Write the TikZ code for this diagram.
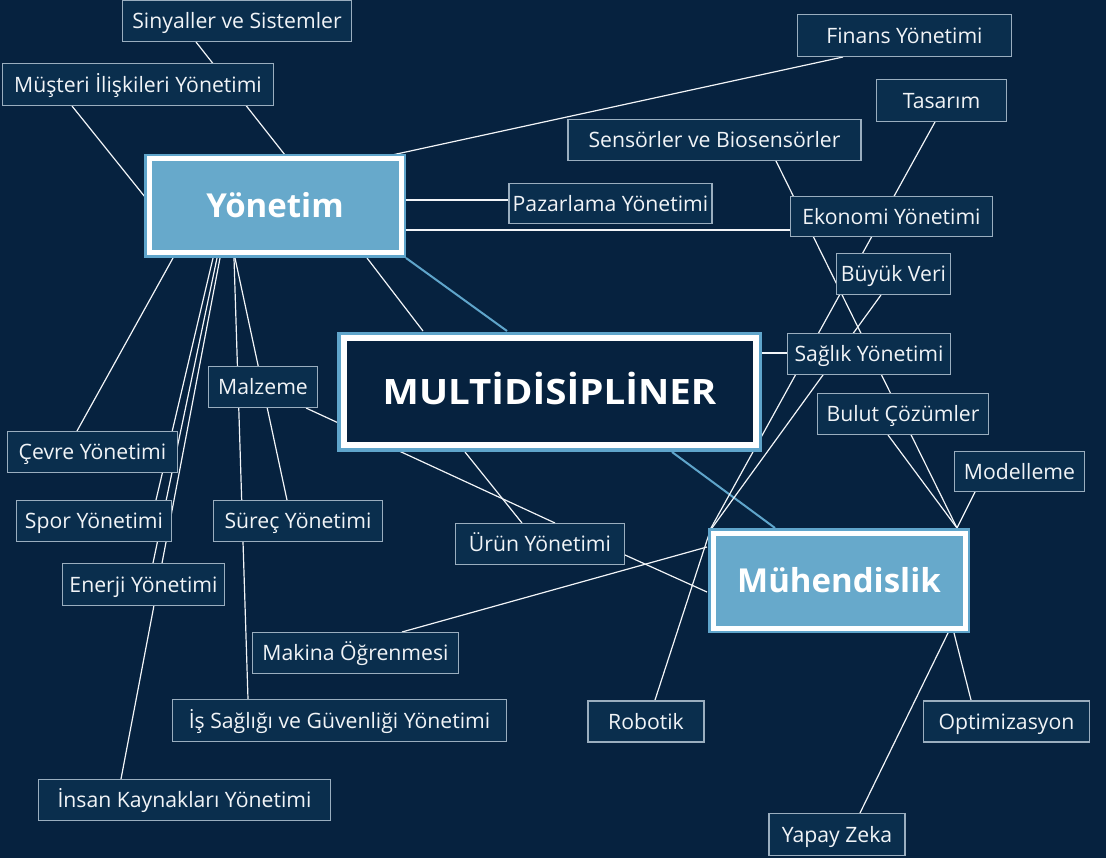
\documentclass[tikz,border=0pt]{standalone}
\usepackage{fontspec}
\usepackage{graphicx}
\setmainfont{Open Sans}
\usetikzlibrary{calc}
\definecolor{bgnavy}{HTML}{06223F}
\definecolor{boxnavy}{HTML}{0A2E4D}
\definecolor{boxedge}{HTML}{9AAEBF}
\definecolor{lightblue}{HTML}{67A9CB}
\definecolor{edgeblue}{HTML}{5FA5CB}
\definecolor{linewhite}{HTML}{F2F5F8}
\definecolor{textwhite}{HTML}{F1F4F7}
\pgfdeclarelayer{bglayer}
\pgfdeclarelayer{linelayer}
\pgfsetlayers{bglayer,linelayer,main}
\tikzset{
  topic/.style={draw=boxedge, fill=boxnavy, line width=1.1pt, inner sep=0pt,
    text=textwhite, font=\fontsize{21.2}{25}\selectfont,
    text height=15.1pt, text depth=0pt},
  hub/.style={fill=lightblue, draw=white, line width=5pt,
    preaction={draw=edgeblue, line width=10pt}, inner sep=0pt, text=white,
    font=\fontsize{33}{38}\selectfont\bfseries, text height=23.6pt, text depth=0pt},
  core/.style={fill=bgnavy, draw=white, line width=6pt,
    preaction={draw=edgeblue, line width=13pt}, inner sep=0pt, text=white,
    font=\fontsize{35}{40}\selectfont\bfseries, text height=25pt, text depth=0pt},
  link/.style={draw=linewhite, line width=1.2pt},
  blink/.style={draw=edgeblue, line width=2pt},
}
\begin{document}
\begin{tikzpicture}[x=1pt,y=-1pt]
\begin{pgfonlayer}{bglayer}
\fill[bgnavy] (0,0) rectangle (1106,858);
\end{pgfonlayer}
\useasboundingbox (0,0) rectangle (1106,858);

% nodes
\node[topic, minimum width=229pt, minimum height=41pt] (sin) at (237,21) {Sinyaller ve Sistemler};
\node[topic, minimum width=271pt, minimum height=42pt] (mus) at (138,84.5) {Müşteri İlişkileri Yönetimi};
\node[hub, minimum width=252pt, minimum height=94pt] (yon) at (275,206) {Yönetim};
\node[topic, minimum width=214pt, minimum height=42pt] (fin) at (904.5,35.5) {Finans Yönetimi};
\node[topic, minimum width=130pt, minimum height=42pt] (tas) at (941.5,100.5) {Tasarım};
\node[topic, minimum width=293pt, minimum height=41pt] (sen) at (714.5,140) {Sensörler ve Biosensörler};
\node[topic, minimum width=203pt, minimum height=40pt] (paz) at (610.5,203.5) {Pazarlama Yönetimi};
\node[topic, minimum width=202pt, minimum height=40pt] (eko) at (891.5,216.5) {Ekonomi Yönetimi};
\node[topic, minimum width=114pt, minimum height=41pt] (buy) at (893.5,274) {Büyük Veri};
\node[core, minimum width=412pt, minimum height=107pt] (multi) at (549.5,392) {\scalebox{1.1}[1]{MULTİDİSİPLİNER}};
\node[topic, minimum width=163pt, minimum height=41pt] (sag) at (869,354) {Sağlık Yönetimi};
\node[topic, minimum width=109pt, minimum height=41pt] (mal) at (263,387) {Malzeme};
\node[topic, minimum width=171pt, minimum height=41pt] (bul) at (903,414) {Bulut Çözümler};
\node[topic, minimum width=170pt, minimum height=41pt] (cev) at (92.5,452) {Çevre Yönetimi};
\node[topic, minimum width=130pt, minimum height=40pt] (mod) at (1019.5,471.5) {Modelleme};
\node[topic, minimum width=155pt, minimum height=41pt] (spo) at (94,521) {Spor Yönetimi};
\node[topic, minimum width=169pt, minimum height=41pt] (sur) at (298,521) {Süreç Yönetimi};
\node[topic, minimum width=169pt, minimum height=41pt] (urun) at (540,544) {Ürün Yönetimi};
\node[hub, minimum width=252pt, minimum height=95pt] (muh) at (839,580.5) {Mühendislik};
\node[topic, minimum width=162pt, minimum height=42pt] (ene) at (143.5,584.5) {Enerji Yönetimi};
\node[topic, minimum width=206pt, minimum height=41pt] (mak) at (355.5,653) {Makina Öğrenmesi};
\node[topic, minimum width=334pt, minimum height=42pt] (isg) at (339.5,720.5) {İş Sağlığı ve Güvenliği Yönetimi};
\node[topic, minimum width=116pt, minimum height=41pt] (rob) at (646,721.5) {Robotik};
\node[topic, minimum width=166pt, minimum height=41pt] (opt) at (1006.5,721.5) {Optimizasyon};
\node[topic, minimum width=292pt, minimum height=41pt] (ins) at (184.5,800) {İnsan Kaynakları Yönetimi};
\node[topic, minimum width=136pt, minimum height=42pt] (yap) at (837,834.5) {Yapay Zeka};

% connectors
\begin{pgfonlayer}{linelayer}
\draw[link] ($(sin.center)+(-41,21)$) -- ($(yon.center)+(10,-51)$);
\draw[link] ($(mus.center)+(-66,21.5)$) -- ($(yon.center)+(-130,-9)$);
\draw[link] ($(fin.center)+(-61.5,21.5)$) -- ($(yon.center)+(117,-51)$);
\draw[link] ($(paz.center)+(-101.5,-3.5)$) -- ($(yon.center)+(131,-6)$);
\draw[link] ($(eko.center)+(-101.5,13.5)$) -- ($(yon.center)+(131,24)$);
\draw[link] ($(yon.center)+(-102,52)$) -- ($(cev.center)+(-15.5,-21)$);
\draw[link] ($(yon.center)+(-62,52)$) -- ($(spo.center)+(62,-21)$);
\draw[link] ($(yon.center)+(-58,52)$) -- ($(ene.center)+(9.5,-21.5)$);
\draw[link] ($(yon.center)+(-55,52)$) -- ($(ins.center)+(-63.5,-21)$);
\draw[link] ($(yon.center)+(-41,52)$) -- ($(isg.center)+(-91.5,-21.5)$);
\draw[link] ($(yon.center)+(-40,52)$) -- ($(sur.center)+(-11,-21)$);
\draw[link] ($(yon.center)+(92,52)$) -- ($(multi.center)+(-126.5,-61)$);
\draw[blink] ($(yon.center)+(131,52)$) -- ($(multi.center)+(-42.5,-61)$);
\draw[link] ($(multi.center)+(211,-39)$) -- ($(sag.center)+(-82,-1)$);
\draw[link] ($(multi.center)+(-84.5,60)$) -- ($(urun.center)+(-18,-21)$);
\draw[link] ($(mal.center)+(43,21)$) -- ($(urun.center)+(15,-21)$);
\draw[blink] ($(multi.center)+(122.5,60)$) -- ($(muh.center)+(-64,-52.5)$);
\draw[link] ($(tas.center)+(-6.5,21.5)$) -- ($(muh.center)+(-128,-52.5)$);
\draw[link] ($(buy.center)+(-12.5,21)$) -- ($(muh.center)+(-127,-52.5)$);
\draw[link] ($(sen.center)+(61.5,21)$) -- ($(muh.center)+(118,-52.5)$);
\draw[link] ($(bul.center)+(-15,21)$) -- ($(muh.center)+(118,-52.5)$);
\draw[link] ($(mod.center)+(-44.5,20.5)$) -- ($(muh.center)+(118,-52.5)$);
\draw[link] ($(muh.center)+(-128,-52.5)$) -- ($(rob.center)+(9,-21.5)$);
\draw[link] ($(muh.center)+(-132,-33.5)$) -- ($(mak.center)+(46.5,-21)$);
\draw[link] ($(muh.center)+(-132,11.5)$) -- ($(urun.center)+(85,11)$);
\draw[link] ($(muh.center)+(109,52.5)$) -- ($(yap.center)+(23,-21.5)$);
\draw[link] ($(muh.center)+(115,52.5)$) -- ($(opt.center)+(-35.5,-21.5)$);
\end{pgfonlayer}
\end{tikzpicture}
\end{document}
